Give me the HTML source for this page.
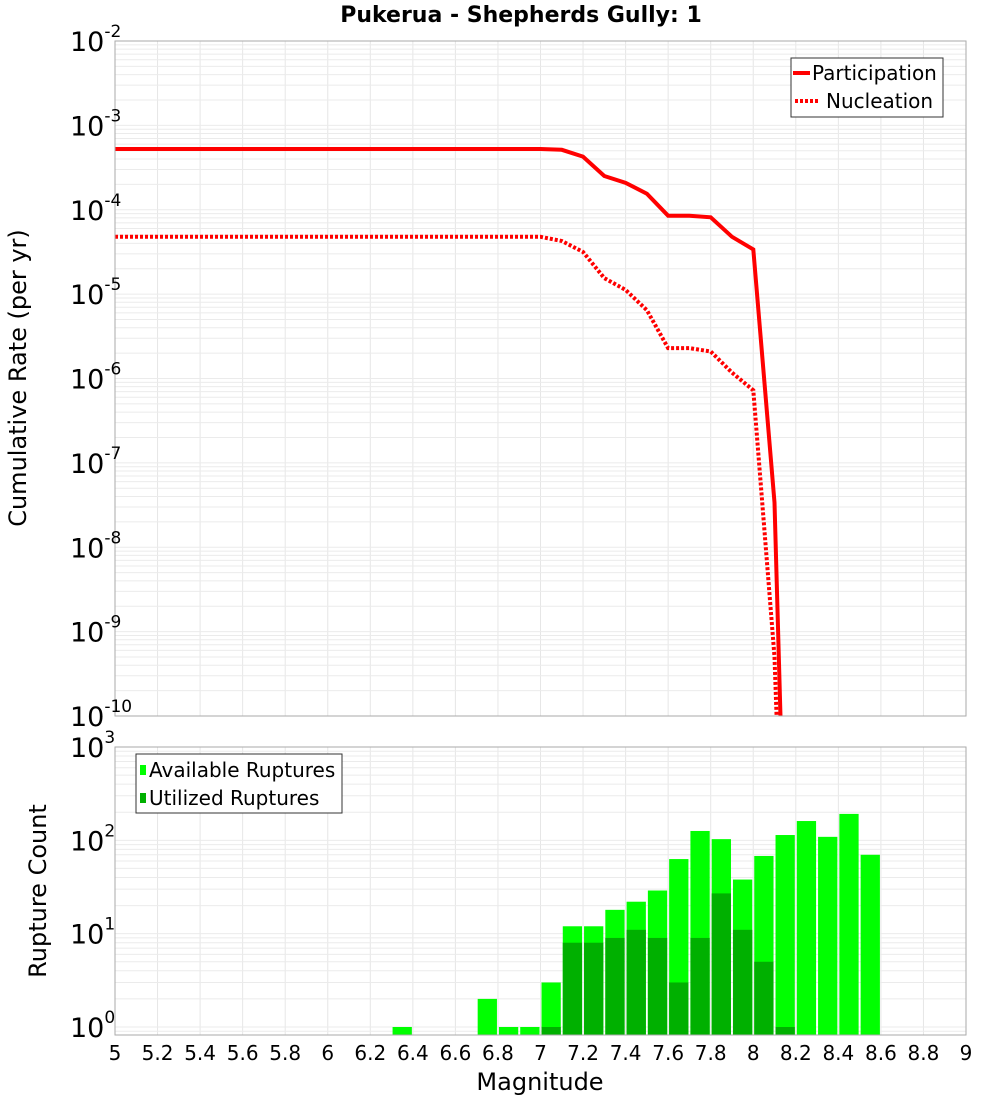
<!DOCTYPE html>
<html><head><meta charset="utf-8"><style>
html,body{margin:0;padding:0;background:#fff;width:1000px;height:1100px;overflow:hidden;}
svg{display:block;font-family:"Liberation Sans","DejaVu Sans",sans-serif;}
</style></head><body>
<svg id="chart" width="1000" height="1100" viewBox="0 0 1000 1100" xmlns="http://www.w3.org/2000/svg">
<rect x="0" y="0" width="1000" height="1100" fill="#fff"/>
<text x="521" y="22" text-anchor="middle" font-size="22" font-weight="bold" font-family="DejaVu Sans, sans-serif">Pukerua - Shepherds Gully: 1</text>
<g id="topGrid"></g><g id="botGrid"></g>
<g id="bars"></g><g id="lines"></g>
<rect x="115" y="41" width="851" height="675" fill="none" stroke="#aaa" stroke-width="1"/>
<rect x="115" y="747" width="851" height="288" fill="none" stroke="#aaa" stroke-width="1"/>
<g id="ticks" font-family="DejaVu Sans, sans-serif"></g>
<text transform="translate(26,378) rotate(-90)" text-anchor="middle" font-size="24" font-family="DejaVu Sans, sans-serif">Cumulative Rate (per yr)</text>
<text transform="translate(46,891) rotate(-90)" text-anchor="middle" font-size="24" font-family="DejaVu Sans, sans-serif">Rupture Count</text>
<text x="540" y="1090" text-anchor="middle" font-size="24" font-family="DejaVu Sans, sans-serif">Magnitude</text>
<g font-family="DejaVu Sans, sans-serif">
<rect x="791" y="58" width="152" height="59" fill="#fff" stroke="#333" stroke-width="1"/>
<line x1="793" y1="73" x2="810" y2="73" stroke="#f00" stroke-width="4"/>
<text x="812" y="80" font-size="20">Participation</text>
<line x1="795" y1="101" x2="820" y2="101" stroke="#f00" stroke-width="4" stroke-dasharray="3,2"/>
<text x="826" y="108" font-size="20">Nucleation</text>
</g>
<g font-family="DejaVu Sans, sans-serif">
<rect x="136" y="754" width="206" height="59" fill="#fff" stroke="#333" stroke-width="1"/>
<rect x="140" y="765" width="6" height="10" fill="#00ff00"/>
<text x="149" y="777" font-size="20">Available Ruptures</text>
<rect x="140" y="793" width="6" height="10" fill="#00b000"/>
<text x="149" y="805" font-size="20">Utilized Ruptures</text>
</g>
</svg>
<script>
const magsLine=[5.0,5.1,5.2,5.3,5.4,5.5,5.6,5.7,5.8,5.9,6.0,6.1,6.2,6.3,6.4,6.5,6.6,6.7,6.8,6.9,7.0,7.1,7.2,7.3,7.4,7.5,7.6,7.7,7.8,7.9,8.0,8.1,8.2];
const partLog=[-3.28,-3.28,-3.28,-3.28,-3.28,-3.28,-3.28,-3.28,-3.28,-3.28,-3.28,-3.28,-3.28,-3.28,-3.28,-3.28,-3.28,-3.28,-3.28,-3.28,-3.28,-3.29,-3.37,-3.60,-3.68,-3.81,-4.07,-4.07,-4.09,-4.32,-4.47,-7.47,-16.5];
const nuclLog=[-4.32,-4.32,-4.32,-4.32,-4.32,-4.32,-4.32,-4.32,-4.32,-4.32,-4.32,-4.32,-4.32,-4.32,-4.32,-4.32,-4.32,-4.32,-4.32,-4.32,-4.32,-4.37,-4.50,-4.81,-4.95,-5.19,-5.64,-5.64,-5.68,-5.93,-6.14,-9.3,-16.5];
const barMags=[6.35,6.75,6.85,6.95,7.05,7.15,7.25,7.35,7.45,7.55,7.65,7.75,7.85,7.95,8.05,8.15,8.25,8.35,8.45,8.55];
const available=[1,2,1,1,3,12,12,18,22,29,63,126,103,38,68,114,161,109,192,70];
const utilized=[0,0,0,0,1,8,8,9,11,9,3,9,27,11,5,1,0,0,0,0];
const xTicks=["5","5.2","5.4","5.6","5.8","6","6.2","6.4","6.6","6.8","7","7.2","7.4","7.6","7.8","8","8.2","8.4","8.6","8.8","9"];
const topExps=[-2,-3,-4,-5,-6,-7,-8,-9,-10];
const botExps=[3,2,1,0];

const NS="http://www.w3.org/2000/svg";
const X0=115,X1=966,TY0=41,TY1=716,BY0=747,BY1=1035;
const x=m=>X0+(m-5)*(X1-X0)/4;
const yTop=l=>TY0+(-2-l)*(TY1-TY0)/8;
const decB=(1027-BY0)/3;
const yBot=v=>BY0+(3-Math.log10(v))*decB;
function mk(tag,attrs,parent){const e=document.createElementNS(NS,tag);for(const k in attrs)e.setAttribute(k,attrs[k]);parent.appendChild(e);return e;}
const tg=document.getElementById('topGrid'),bg=document.getElementById('botGrid');
for(let i=1;i<20;i++){const xx=X0+i*(X1-X0)/20;
 const a=mk('line',{x1:xx,x2:xx,y1:TY0,y2:TY1,stroke:'#e6e6e6'},tg);
 
 const b=mk('line',{x1:xx,x2:xx,y1:BY0,y2:BY1,stroke:'#e6e6e6'},bg);
 }
for(let d=-10;d<-2;d++)for(let k=1;k<10;k++){const l=d+Math.log10(k);const yy=yTop(l);
 const g=mk('line',{x1:X0,x2:X1,y1:yy,y2:yy,stroke:'#ebebeb'},tg);
 }
for(let d=-1;d<3;d++)for(let k=1;k<10;k++){const v=Math.pow(10,d)*k;const yy=yBot(v);if(yy>BY1||yy<BY0)continue;
 const g=mk('line',{x1:X0,x2:X1,y1:yy,y2:yy,stroke:'#ebebeb'},bg);
 }
const bars=document.getElementById('bars');const bw=(X1-X0)/40;
barMags.forEach((m,i)=>{
 const xl=x(m)-bw/2+1,w=bw-2;
 if(available[i]>0){const yt=yBot(available[i]);
  const r=mk('rect',{x:xl,y:yt,width:w,height:BY1-yt,fill:'#00ff00'},bars);
  }
 if(utilized[i]>0){const yt=yBot(utilized[i]);
  const r=mk('rect',{x:xl,y:yt,width:w,height:BY1-yt,fill:'#00b000'},bars);
  }
});
const lg=document.getElementById('lines');
mk('clipPath',{id:'tc'},lg).appendChild(document.createElementNS(NS,'rect'));
const cr=lg.querySelector('#tc rect');cr.setAttribute('x',X0);cr.setAttribute('y',TY0);cr.setAttribute('width',X1-X0);cr.setAttribute('height',TY1-TY0);
function path(arr){return arr.map((l,i)=>(i?'L':'M')+x(magsLine[i]).toFixed(1)+','+yTop(l).toFixed(1)).join(' ');}
const pn=mk('path',{d:path(nuclLog),fill:'none',stroke:'#f00','stroke-width':4,'stroke-dasharray':'3,2','clip-path':'url(#tc)'},lg);

const pp=mk('path',{d:path(partLog),fill:'none',stroke:'#f00','stroke-width':4,'clip-path':'url(#tc)'},lg);

const tk=document.getElementById('ticks');
xTicks.forEach((t,i)=>{const tx=mk('text',{x:X0+i*(X1-X0)/20,y:1060,'text-anchor':'middle','font-size':20},tk);tx.textContent=t;
 });
function ylab(yy,e,name){const t=mk('text',{x:70,y:yy+10,'font-size':27},tk);
 t.textContent='10';const s=mk('tspan',{dy:-14,'font-size':17},t);s.textContent=String(e);}
topExps.forEach(e=>ylab(yTop(e),e,'top-y-tick-label'));
botExps.forEach(e=>ylab(yBot(Math.pow(10,e)),e,'bottom-y-tick-label'));
</script>
</body></html>
